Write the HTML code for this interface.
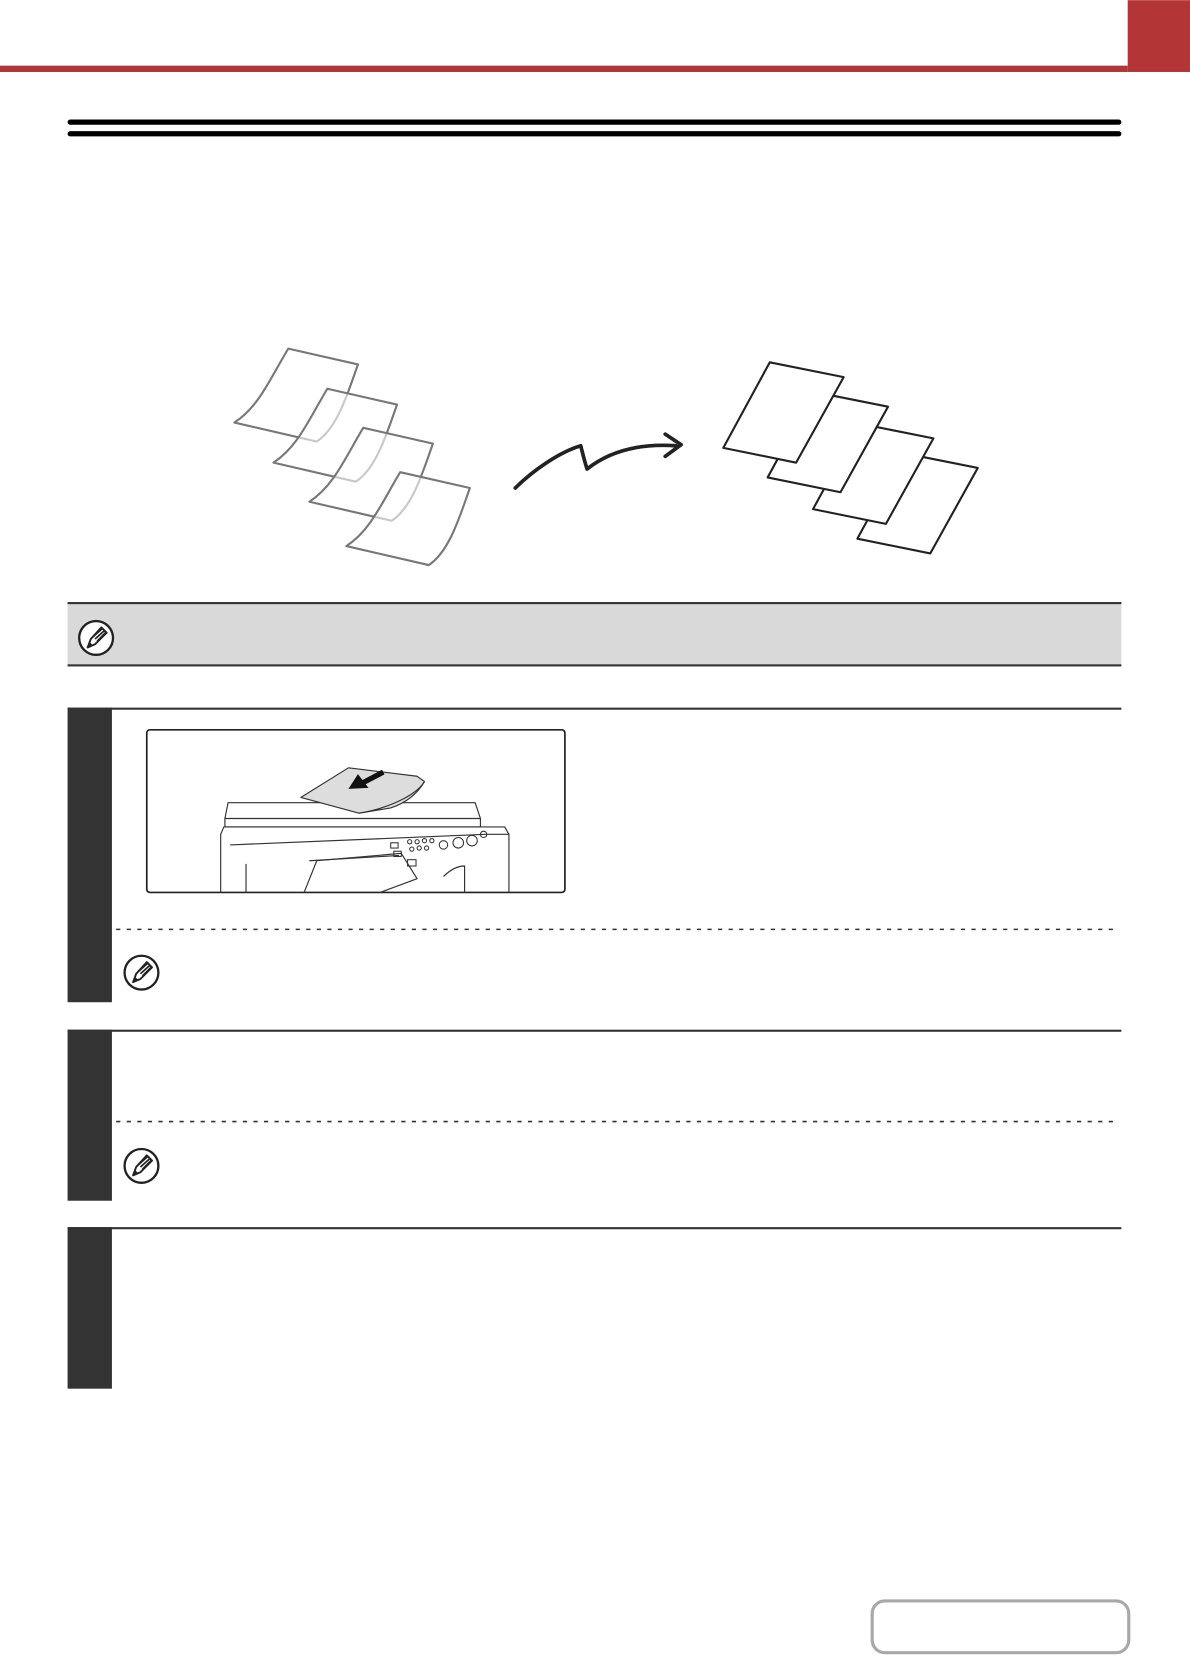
<!DOCTYPE html>
<html><head><meta charset="utf-8"><style>html,body{margin:0;padding:0;background:#fff}svg{display:block}</style></head>
<body>
<svg width="1190" height="1656" viewBox="0 0 1127 1568" xmlns="http://www.w3.org/2000/svg">
<defs>
<g id="pen">
<circle cx="0" cy="0" r="16" fill="#fff" stroke="#222" stroke-width="2.2"/>
<path d="M-8,9 L-5,1 L5,-10 L10,-5 L-1,6 Z" fill="#fff" stroke="#222" stroke-width="1.8" stroke-linejoin="round"/>
<path d="M-3,-1 L6,-9 M-1,1 L8,-7 M1,3 L9,-5" stroke="#222" stroke-width="1.6"/>
<path d="M-8,9 L-6,4 L-3,7 Z" fill="#222"/>
</g>
<g id="curl">
<path d="M273,330 L339,345 C330,370 320,405 300,418 L222,400 C245,385 255,360 273,330 Z" fill="#fff" fill-opacity="0.6" stroke="#777" stroke-width="2" stroke-linejoin="round"/>
</g>
<g id="para">
<path d="M729,343 L799,357 L754,438 L685,424 Z" fill="#fff" stroke="#222" stroke-width="2" stroke-linejoin="round"/>
</g>
</defs>
<rect x="0" y="62" width="1068" height="6" fill="#b33535"/>
<rect x="1068" y="0" width="59" height="68" fill="#b33535"/>
<rect x="64" y="113" width="998" height="5" rx="2.5" fill="#000"/>
<rect x="64" y="124" width="998" height="5" rx="2.5" fill="#000"/>

<use href="#curl"/>
<use href="#curl" transform="translate(37,38)"/>
<use href="#curl" transform="translate(71,75)"/>
<use href="#curl" transform="translate(106,117)"/>

<path d="M488,462 C505,445 530,428 550,422 C552,430 554,438 556,444 C580,425 610,420 640,422" fill="none" stroke="#222" stroke-width="3.5" stroke-linecap="round" stroke-linejoin="round"/>
<path d="M630,411 L645,421 L630,432" fill="none" stroke="#222" stroke-width="3.5" stroke-linecap="round" stroke-linejoin="round"/>

<use href="#para" transform="translate(127,86)"/>
<use href="#para" transform="translate(85,58)"/>
<use href="#para" transform="translate(42,28)"/>
<use href="#para"/>

<rect x="64" y="571" width="998" height="59" fill="#d9d9d9"/>
<rect x="64" y="570" width="998" height="2" fill="#333"/>
<rect x="64" y="629" width="998" height="2" fill="#333"/>
<use href="#pen" transform="translate(91,604)"/>

<rect x="64" y="670" width="998" height="2" fill="#333"/>
<rect x="64" y="670" width="42" height="279" fill="#333"/>
<rect x="139" y="691" width="396" height="154" rx="3" fill="#fff" stroke="#222" stroke-width="1.6"/>
<g fill="none" stroke="#333" stroke-width="1.1" stroke-linejoin="round">
<path d="M209,845 L209,790 L212,783 L478,783 L482,790 L482,845"/>
<path d="M213,775 L216,760 L450,760 L455,775 L455,783 L213,783 Z"/>
<path d="M213,775 L455,775"/>
<path d="M218,800 L460,790 L482,790"/>
<path d="M288,845 L300,815 L380,808 L395,832 L360,845"/>
<path d="M293,815 L378,810"/>
<path d="M233,818 L233,845 M420,830 Q430,820 440,820 L440,845"/>
<path d="M285,755 L330,727 L395,735 L402,740 C395,752 385,760 370,765 L340,770 Z" fill="#ddd"/>
<path d="M340,770 C370,765 395,752 402,740"/>
</g>
<g fill="none" stroke="#333" stroke-width="1">
<circle cx="420" cy="800" r="4"/><circle cx="434" cy="798" r="5"/><circle cx="447" cy="796" r="5"/><circle cx="458" cy="790" r="3"/>
<circle cx="388" cy="797" r="2"/><circle cx="395" cy="797" r="2"/><circle cx="402" cy="796" r="2"/><circle cx="409" cy="796" r="2"/>
<circle cx="390" cy="804" r="2"/><circle cx="397" cy="803" r="2"/><circle cx="404" cy="803" r="2"/>
<rect x="370" y="798" width="7" height="5"/><rect x="373" y="806" width="7" height="5"/><rect x="386" y="814" width="8" height="6"/>
</g>
<line x1="363" y1="731" x2="344" y2="741" stroke="#111" stroke-width="5"/>
<path d="M330,747 L339,733 L349,746 Z" fill="#111"/>
<line x1="110" y1="880" x2="1058" y2="880" stroke="#333" stroke-width="1.5" stroke-dasharray="4,6"/>
<use href="#pen" transform="translate(134,921)"/>

<rect x="64" y="975" width="998" height="2" fill="#333"/>
<rect x="64" y="975" width="42" height="162" fill="#333"/>
<line x1="110" y1="1062" x2="1058" y2="1062" stroke="#333" stroke-width="1.5" stroke-dasharray="4,6"/>
<use href="#pen" transform="translate(134,1104)"/>

<rect x="64" y="1162" width="998" height="2" fill="#333"/>
<rect x="64" y="1162" width="42" height="153" fill="#333"/>

<rect x="826" y="1516" width="243" height="49" rx="12" fill="#fff" stroke="#a8a8a8" stroke-width="3"/>
</svg>
</body></html>
